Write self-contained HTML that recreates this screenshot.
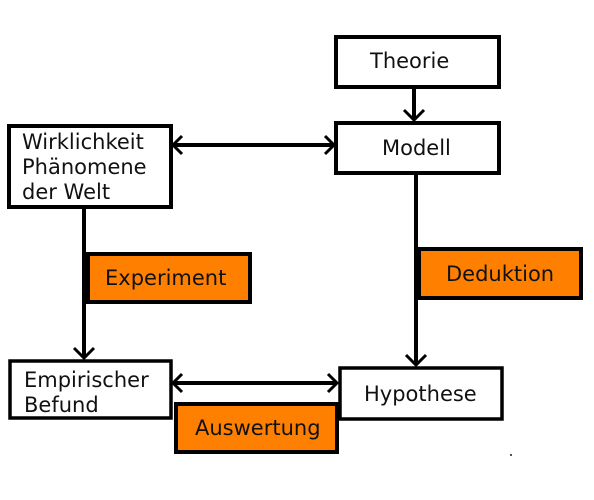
<!DOCTYPE html>
<html><head><meta charset="utf-8"><style>
html,body{margin:0;padding:0;background:#fff;}
svg text{font-family:"DejaVu Sans","Liberation Sans",sans-serif;font-size:21px;fill:#111;}
</style></head><body>
<svg width="594" height="495" viewBox="0 0 594 495" xmlns="http://www.w3.org/2000/svg">
<g fill="none" stroke="#000" stroke-width="4">
<rect x="336" y="37" width="163" height="50"/>
<rect x="336" y="123" width="163" height="50"/>
<rect x="9" y="126" width="162" height="81"/>
<rect x="10" y="361" width="161" height="57" stroke-width="3.5"/>
<rect x="340" y="368" width="162" height="51" stroke-width="3.5"/>
</g>
<g fill="#ff8000" stroke="#000" stroke-width="4">
<rect x="88" y="254" width="162" height="48"/>
<rect x="419" y="249" width="162" height="49"/>
<rect x="176" y="404" width="161" height="48"/>
</g>
<g stroke="#000" stroke-width="4" fill="none">
<line x1="414" y1="87" x2="414" y2="120"/>
<polyline points="404,110 414,120 424,110" stroke-width="3"/>
<line x1="173" y1="145" x2="334" y2="145"/>
<polyline points="182,136 173,145 182,154" stroke-width="3"/>
<polyline points="325,136 334,145 325,154" stroke-width="3"/>
<line x1="84" y1="207" x2="84" y2="358"/>
<polyline points="74,348 84,358 94,348" stroke-width="3"/>
<line x1="416" y1="173" x2="416" y2="365"/>
<polyline points="406,355 416,365 426,355" stroke-width="3"/>
<line x1="173" y1="383" x2="337" y2="383"/>
<polyline points="182,374 173,383 182,392" stroke-width="3"/>
<polyline points="328,374 337,383 328,392" stroke-width="3"/>
</g>
<rect x="510" y="454" width="2" height="2" fill="#555"/>
<text x="370" y="68">Theorie</text>
<text x="382" y="155">Modell</text>
<text x="22" y="149">Wirklichkeit</text>
<text x="22" y="174">Phänomene</text>
<text x="22" y="199">der Welt</text>
<text x="105" y="285">Experiment</text>
<text x="446" y="281">Deduktion</text>
<text x="24" y="387">Empirischer</text>
<text x="24" y="412">Befund</text>
<text x="364" y="401">Hypothese</text>
<text x="195" y="435">Auswertung</text>
</svg>
</body></html>
